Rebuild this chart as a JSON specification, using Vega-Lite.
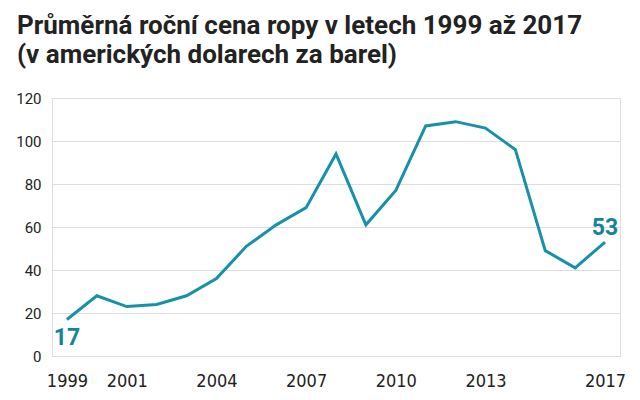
{
  "$schema": "https://vega.github.io/schema/vega-lite/v6.json",
  "autosize": "none",
  "width": 568,
  "height": 258,
  "padding": {"left": 52, "top": 98, "right": 20, "bottom": 44},
  "background": "white",
  "title": {
    "text": ["Průměrná roční cena ropy v letech 1999 až 2017", "(v amerických dolarech za barel)"],
    "anchor": "start",
    "frame": "group",
    "dx": -35,
    "offset": 2,
    "font": "Roboto",
    "fontSize": 26,
    "fontWeight": "bold",
    "color": "#222222",
    "lineHeight": 29,
    "baseline": "alphabetic"
  },
  "data": {
    "values": [
      {"year": 1999, "price": 17},
      {"year": 2000, "price": 28},
      {"year": 2001, "price": 23},
      {"year": 2002, "price": 24},
      {"year": 2003, "price": 28},
      {"year": 2004, "price": 36},
      {"year": 2005, "price": 51},
      {"year": 2006, "price": 61},
      {"year": 2007, "price": 69},
      {"year": 2008, "price": 94},
      {"year": 2009, "price": 61},
      {"year": 2010, "price": 77},
      {"year": 2011, "price": 107},
      {"year": 2012, "price": 109},
      {"year": 2013, "price": 106},
      {"year": 2014, "price": 96},
      {"year": 2015, "price": 49},
      {"year": 2016, "price": 41},
      {"year": 2017, "price": 53}
    ]
  },
  "encoding": {
    "x": {
      "field": "year",
      "type": "quantitative",
      "scale": {"domain": [1998.5, 2017.5], "nice": false, "zero": false},
      "axis": {
        "title": null,
        "values": [1999, 2001, 2004, 2007, 2010, 2013, 2017],
        "format": "d",
        "grid": false,
        "domain": false,
        "ticks": false,
        "labelFont": "Liberation Sans Narrow, DejaVu Sans Condensed, sans-serif",
        "labelFontSize": 18,
        "labelColor": "#222222",
        "labelPadding": 16
      }
    },
    "y": {
      "field": "price",
      "type": "quantitative",
      "scale": {"domain": [0, 120], "nice": false},
      "axis": {
        "title": null,
        "values": [0, 20, 40, 60, 80, 100, 120],
        "grid": true,
        "gridColor": "#dddddd",
        "gridWidth": 1,
        "domain": false,
        "ticks": false,
        "labelFont": "Roboto",
        "labelFontSize": 15,
        "labelColor": "#222222",
        "labelPadding": 11
      }
    }
  },
  "layer": [
    {
      "mark": {"type": "line", "color": "#1791aa", "strokeWidth": 3, "strokeJoin": "miter"}
    },
    {
      "transform": [{"filter": "datum.year == 1999"}],
      "mark": {"type": "text", "align": "center", "baseline": "middle", "dy": 19, "font": "Roboto", "fontSize": 23, "fontWeight": "bold", "color": "#15849a"},
      "encoding": {"text": {"field": "price", "type": "quantitative"}}
    },
    {
      "transform": [{"filter": "datum.year == 2017"}],
      "mark": {"type": "text", "align": "center", "baseline": "middle", "dy": -14, "font": "Roboto", "fontSize": 23, "fontWeight": "bold", "color": "#15849a"},
      "encoding": {"text": {"field": "price", "type": "quantitative"}}
    }
  ]
}
